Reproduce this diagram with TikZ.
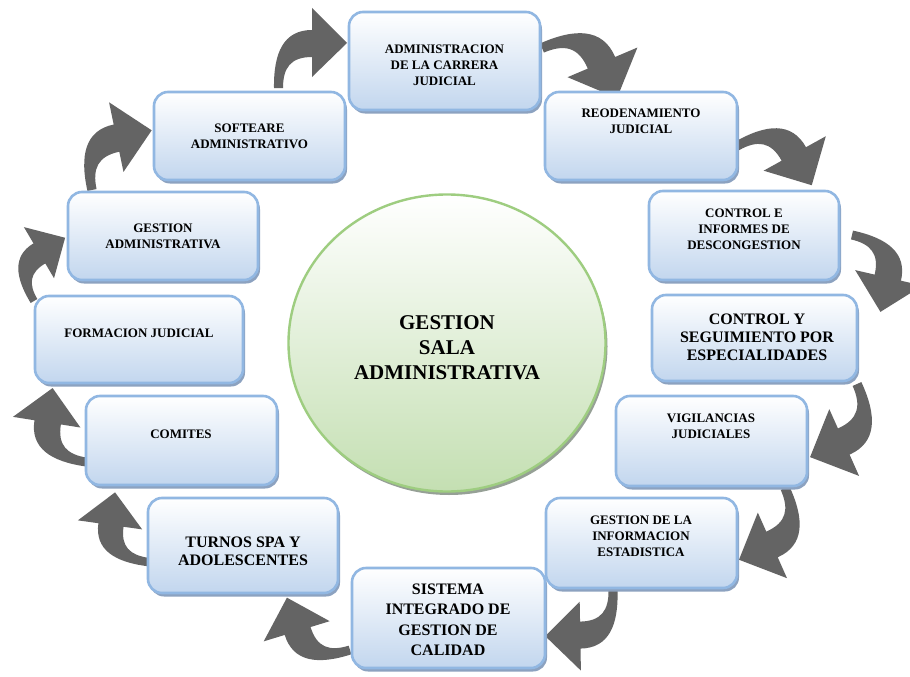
\documentclass[tikz,border=0pt]{standalone}
\usepackage{fontspec}
\setmainfont{Liberation Serif}
\usetikzlibrary{shapes.geometric,shadows}
\definecolor{bxborder}{RGB}{145,183,226}
\definecolor{bxbottom}{RGB}{194,214,238}
\definecolor{bxshadow}{RGB}{140,162,192}
\definecolor{cborder}{RGB}{158,205,128}
\definecolor{cbottom}{RGB}{196,223,178}
\definecolor{cshadow}{RGB}{150,160,150}
\definecolor{arrgray}{RGB}{100,100,100}
\tikzset{
  stepbox/.style={rectangle, rounded corners=14pt, draw=bxborder, line width=2.6pt,
    top color=white, bottom color=bxbottom, inner sep=0pt,
    drop shadow={shadow xshift=2pt, shadow yshift=-3.5pt, fill=bxshadow, opacity=1}},
  hub/.style={ellipse, draw=cborder, line width=2.4pt, top color=white, bottom color=cbottom,
    inner sep=0pt, minimum width=317pt, minimum height=297pt,
    drop shadow={shadow xshift=2pt, shadow yshift=-3.5pt, fill=cshadow, opacity=1}},
  smalltxt/.style={align=center, inner sep=0pt, font=\bfseries\fontsize{13}{16}\selectfont},
  bigtxt/.style={align=center, inner sep=0pt, font=\bfseries\fontsize{16}{18}\selectfont},
  hubtxt/.style={align=center, inner sep=0pt, font=\bfseries\fontsize{21}{25}\selectfont},
  blockarrow/.style={fill=arrgray, draw=none}
}
\newcommand\curvarrow[3]{%
  \fill[blockarrow, shift={(#1)}, rotate=#2, scale=#3]
    (-4.5,0) .. controls (-5,-35) and (5,-58) .. (33.5,-58)
    -- (33.5,-80) -- (68.5,-45) -- (33.5,-11) -- (33.5,-31)
    .. controls (12,-31) and (4.5,-20) .. (4.5,0) -- cycle;}
\begin{document}
\begin{tikzpicture}[x=1pt,y=-1pt]
\fill[white] (0,0) rectangle (910,677);
\useasboundingbox (0,0) rectangle (910,677);
\clip (0,0) rectangle (910,677);
% arrow tails
\coordinate (a1) at (278.5,88);
\coordinate (a2) at (542,48);
\coordinate (a3) at (737,146);
\coordinate (a4) at (852,235);
\coordinate (a5) at (857,384);
\coordinate (a6) at (785,488);
\coordinate (a7) at (613,590);
\coordinate (a8) at (350,650);
\coordinate (a9) at (148,562);
\coordinate (a10) at (86,462);
\coordinate (a11) at (34,301);
\coordinate (a12) at (92,190);
\curvarrow{a1}{0}{1}
\curvarrow{a2}{-67}{1.1}
\curvarrow{a3}{-61}{1.03}
\curvarrow{a4}{-103}{1}
\curvarrow{a5}{-156}{1.06}
\curvarrow{a6}{-156}{1.04}
\curvarrow{a7}{-179}{1}
\curvarrow{a8}{-253}{1}
\curvarrow{a9}{-278}{0.94}
\curvarrow{a10}{-279}{0.99}
\curvarrow{a11}{30.5}{0.86}
\curvarrow{a12}{11.7}{1.03}
% hub
\node[hub] (hub) at (447,343) {};
\node[hubtxt] (hubt) at (447,348) {GESTION\\SALA\\ADMINISTRATIVA};
% boxes
\node[stepbox, minimum width=191pt, minimum height=98pt] (b1) at (444.5,61) {};
\node[stepbox, minimum width=192pt, minimum height=88pt] (b2) at (641,136) {};
\node[stepbox, minimum width=190pt, minimum height=89pt] (b3) at (744,235.5) {};
\node[stepbox, minimum width=205pt, minimum height=86pt] (b4) at (754.5,338) {};
\node[stepbox, minimum width=191pt, minimum height=90pt] (b5) at (711.5,441) {};
\node[stepbox, minimum width=191pt, minimum height=90pt] (b6) at (641.5,543) {};
\node[stepbox, minimum width=193pt, minimum height=100pt] (b7) at (448.5,618) {};
\node[stepbox, minimum width=190pt, minimum height=95pt] (b8) at (243,545.5) {};
\node[stepbox, minimum width=191pt, minimum height=89pt] (b9) at (181.5,440.5) {};
\node[stepbox, minimum width=208pt, minimum height=87pt] (b10) at (139,339.5) {};
\node[stepbox, minimum width=190pt, minimum height=88pt] (b11) at (163,236) {};
\node[stepbox, minimum width=191pt, minimum height=88pt] (b12) at (249.5,136) {};
% texts
\node[smalltxt] (t1) at (444.5,65) {ADMINISTRACION\\DE LA CARRERA\\JUDICIAL};
\node[smalltxt] (t2) at (641,121) {REODENAMIENTO\\JUDICIAL};
\node[smalltxt] (t3) at (744,229) {CONTROL E\\INFORMES DE\\DESCONGESTION};
\node[bigtxt] (t4) at (757,337) {CONTROL Y\\SEGUIMIENTO POR\\ESPECIALIDADES};
\node[smalltxt] (t5) at (711,426) {VIGILANCIAS\\JUDICIALES};
\node[smalltxt] (t6) at (641,536) {GESTION DE LA\\INFORMACION\\ESTADISTICA};
\node[bigtxt, font=\bfseries\fontsize{16}{20.5}\selectfont] (t7) at (448,620) {SISTEMA\\INTEGRADO DE\\GESTION DE\\CALIDAD};
\node[bigtxt] (t8) at (243,551) {TURNOS SPA Y\\ADOLESCENTES};
\node[smalltxt] (t9) at (181,434) {COMITES};
\node[smalltxt] (t10) at (139,333) {FORMACION JUDICIAL};
\node[smalltxt] (t11) at (163,236.5) {GESTION\\ADMINISTRATIVA};
\node[smalltxt] (t12) at (249.5,136) {SOFTEARE\\ADMINISTRATIVO};
\end{tikzpicture}
\end{document}
